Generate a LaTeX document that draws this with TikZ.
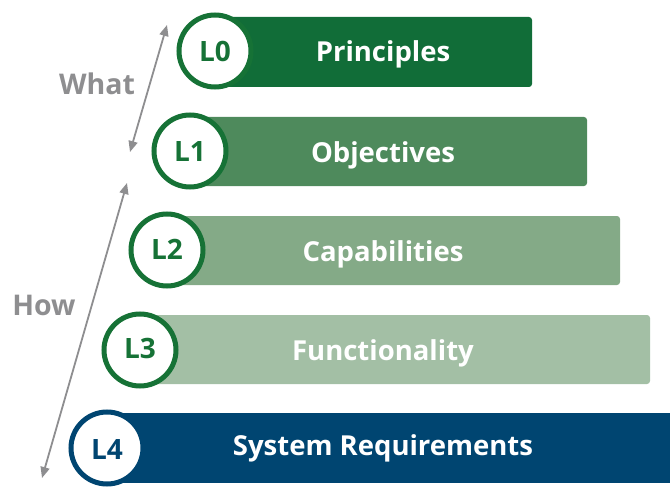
\documentclass[tikz,border=0pt]{standalone}
\usepackage{fontspec}
\setmainfont{Open Sans}
\usetikzlibrary{arrows.meta}
\definecolor{gL0}{HTML}{116D38}
\definecolor{gL1}{HTML}{4E8A5C}
\definecolor{gL2}{HTML}{84AA87}
\definecolor{gL3}{HTML}{A3BFA5}
\definecolor{bL4}{HTML}{004571}
\definecolor{ring}{HTML}{167236}
\definecolor{greyarrow}{HTML}{8E8E90}
\tikzset{
  barbox/.style={rounded corners=3pt, draw=none},
  bartext/.style={text=white, font=\fontsize{27.5}{30}\selectfont\bfseries, anchor=base, inner sep=0pt},
  ringnode/.style={circle, fill=white, draw=ring, line width=5pt, minimum size=72pt, inner sep=0pt},
  ringtext/.style={text=ring, font=\fontsize{28}{30}\selectfont\bfseries, anchor=base, inner sep=0pt},
  sidelabel/.style={text=greyarrow, font=\fontsize{28.5}{30}\selectfont\bfseries, anchor=base, inner sep=0pt},
  dblarrow/.style={draw=greyarrow, line width=1.8pt, {Triangle[length=11pt,width=9pt]}-{Triangle[length=11pt,width=9pt]}}
}
\begin{document}
\begin{tikzpicture}[x=1pt,y=-1pt]
\useasboundingbox (0,0) rectangle (670,487);
% bars
\fill[barbox, gL0] (215,17) rectangle (532,87);
\fill[barbox, gL1] (190,117) rectangle (587,186);
\fill[barbox, gL2] (167,216) rectangle (620,285);
\fill[barbox, gL3] (140,315) rectangle (650,384);
\fill[bL4] (107,413) rectangle (670,483);
% texts
\node[bartext] (t0) at (383,62) {Principles};
\node[bartext] (t1) at (383,162) {Objectives};
\node[bartext] (t2) at (383,261) {Capabilities};
\node[bartext] (t3) at (383,360) {Functionality};
\node[bartext] (t4) at (383,455) {System Requirements};
% circles
\node[ringnode] (c0) at (215,51) {};
\node[ringnode] (c1) at (190,151) {};
\node[ringnode] (c2) at (167,250) {};
\node[ringnode] (c3) at (140,350) {};
\node[ringnode, draw=bL4] (c4) at (107,448) {};
\node[ringtext] (l0) at (215,62) {L0};
\node[ringtext] (l1) at (190,161) {L1};
\node[ringtext] (l2) at (167,259) {L2};
\node[ringtext] (l3) at (140,358) {L3};
\node[ringtext, text=bL4] (l4) at (107,459) {L4};
% arrows
\coordinate (wTop) at (167,25);
\coordinate (wBot) at (130,152);
\coordinate (hTop) at (127,183);
\coordinate (hBot) at (42,478);
\draw[dblarrow] (wTop) -- (wBot);
\draw[dblarrow] (hTop) -- (hBot);
\node[sidelabel] (what) at (97,95) {What};
\node[sidelabel] (how) at (44,315) {How};
\end{tikzpicture}
\end{document}
